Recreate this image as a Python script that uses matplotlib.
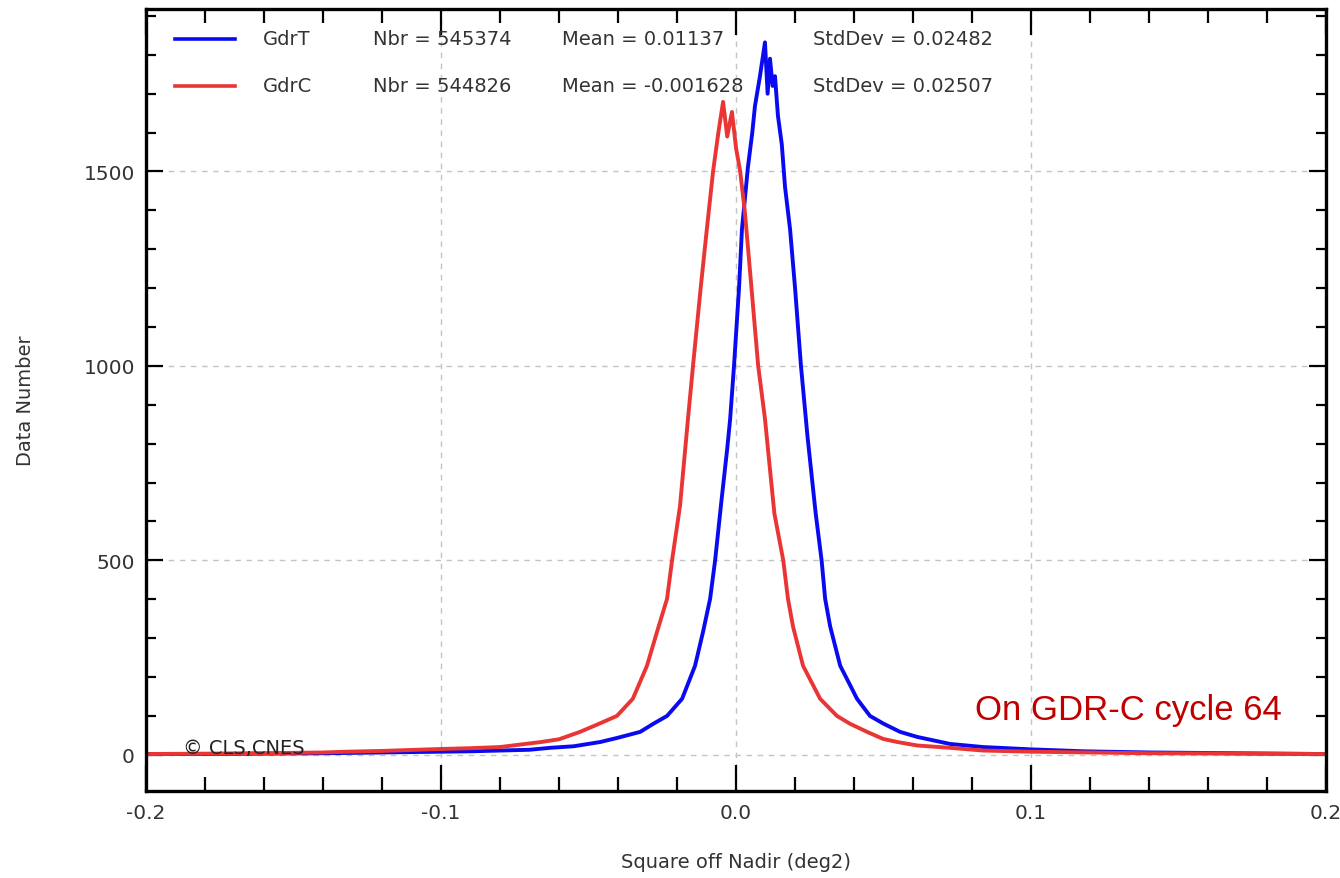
import matplotlib
matplotlib.use('Agg')
import matplotlib.pyplot as plt
from matplotlib.ticker import MultipleLocator

# GdrT histogram
x_t = [-0.200, -0.180, -0.160, -0.140, -0.120, -0.100, -0.090, -0.080, -0.070, -0.063,
       -0.055, -0.046, -0.040, -0.0325, -0.028, -0.0234, -0.0183, -0.0139, -0.0112, -0.0088,
       -0.0071, -0.0050, -0.0030, -0.0020, -0.0007, 0.0010, 0.0020, 0.0030, 0.0040, 0.0055,
       0.0064, 0.0081, 0.0098, 0.0107, 0.0115, 0.0124, 0.0132, 0.0142, 0.0155, 0.0166,
       0.0183, 0.0200, 0.0220, 0.0242, 0.0270, 0.0290, 0.0302, 0.0319, 0.0353, 0.0386,
       0.0410, 0.0454, 0.0500, 0.0556, 0.0614, 0.0725, 0.0837, 0.100, 0.118, 0.140,
       0.170, 0.200]
y_t = [2, 2, 3, 4, 6, 8, 9, 11, 13, 18,
       22, 33, 44, 59, 80, 100, 144, 229, 316, 401,
       500, 650, 787, 864, 1000, 1200, 1352, 1430, 1510, 1600,
       1668, 1745, 1832, 1700, 1790, 1720, 1745, 1643, 1570, 1460,
       1352, 1200, 1000, 820, 620, 500, 401, 330, 229, 180,
       144, 100, 80, 59, 46, 28, 20, 14, 9, 6,
       4, 2]

# GdrC histogram
x_c = [-0.200, -0.180, -0.160, -0.140, -0.132, -0.120, -0.100, -0.090, -0.080, -0.066,
       -0.060, -0.0529, -0.0470, -0.0404, -0.0350, -0.0302, -0.0268, -0.0234, -0.0217, -0.0190,
       -0.0163, -0.0146, -0.0120, -0.0099, -0.0078, -0.0060, -0.0044, -0.0030, -0.0014, 0.0000,
       0.0014, 0.0030, 0.0050, 0.0075, 0.0098, 0.0108, 0.0130, 0.0160, 0.0176, 0.0193,
       0.0227, 0.0285, 0.0342, 0.0386, 0.0444, 0.0498, 0.0546, 0.0614, 0.0725, 0.0837,
       0.100, 0.120, 0.140, 0.170, 0.200]
y_c = [2, 3, 4, 6, 8, 10, 15, 17, 20, 33,
       40, 59, 78, 100, 144, 229, 316, 401, 500, 640,
       864, 1000, 1200, 1352, 1500, 1600, 1679, 1590, 1653, 1560,
       1500, 1395, 1220, 1000, 864, 787, 620, 500, 401, 330,
       229, 144, 100, 80, 59, 41, 33, 24, 18, 11,
       8, 6, 4, 3, 2]

names = ['GdrT', 'GdrC']
nbr = ['545374', '544826']
means = ['0.01137', '-0.001628']
stds = ['0.02482', '0.02507']
colors = ['#0a0af0', '#ea3535']

fig = plt.figure(figsize=(13.4, 8.79), dpi=100)
ax = fig.add_axes([0.109, 0.099, 0.8806, 0.8897])

ax.plot(x_t, y_t, color=colors[0], lw=2.8)
ax.plot(x_c, y_c, color=colors[1], lw=2.8)

ax.set_xlim(-0.2, 0.2)
ax.set_ylim(-93, 1918)
ax.set_xticks([-0.2, -0.1, 0.0, 0.1, 0.2])
ax.set_xticklabels(['-0.2', '-0.1', '0.0', '0.1', '0.2'])
ax.set_yticks([0, 500, 1000, 1500])
ax.xaxis.set_minor_locator(MultipleLocator(0.02))
ax.yaxis.set_minor_locator(MultipleLocator(100))
ax.tick_params(which='both', direction='in', top=True, right=True, width=1.6,
               labelsize=14.5, labelcolor='#333333')
ax.tick_params(axis='x', which='major', length=19, pad=9)
ax.tick_params(axis='x', which='minor', length=10)
ax.tick_params(axis='y', which='major', length=12, pad=8)
ax.tick_params(axis='y', which='minor', length=7)
for s in ax.spines.values():
    s.set_linewidth(2.4)

ax.grid(True, which='major', ls=(0, (4, 4)), color='#c4c4c4', lw=1)
ax.set_axisbelow(True)

ax.set_xlabel('Square off Nadir (deg2)', fontsize=14, color='#333333', labelpad=21)
ax.set_ylabel('Data Number', fontsize=14, color='#333333', labelpad=35)

# legend rows
for i in range(2):
    yy = 0.9616 - i * 0.0601
    ax.plot([0.0246, 0.0754], [yy, yy], color=colors[i], lw=2.6, transform=ax.transAxes)
    ax.text(0.0992, yy, names[i], transform=ax.transAxes, fontsize=14, color='#333333', va='center')
    ax.text(0.1924, yy, 'Nbr = ' + nbr[i], transform=ax.transAxes, fontsize=14, color='#333333', va='center')
    ax.text(0.3525, yy, 'Mean = ' + means[i], transform=ax.transAxes, fontsize=14, color='#333333', va='center')
    ax.text(0.5653, yy, 'StdDev = ' + stds[i], transform=ax.transAxes, fontsize=14, color='#333333', va='center')

ax.text(0.0314, 0.055, '\u00a9 CLS,CNES', transform=ax.transAxes, fontsize=14, color='#222222', va='center')
ax.text(0.7025, 0.092, 'On GDR-C cycle 64', transform=ax.transAxes, fontsize=25,
        family='Liberation Sans', color='#c00000', va='baseline')

fig.savefig('out.png', dpi=100)
